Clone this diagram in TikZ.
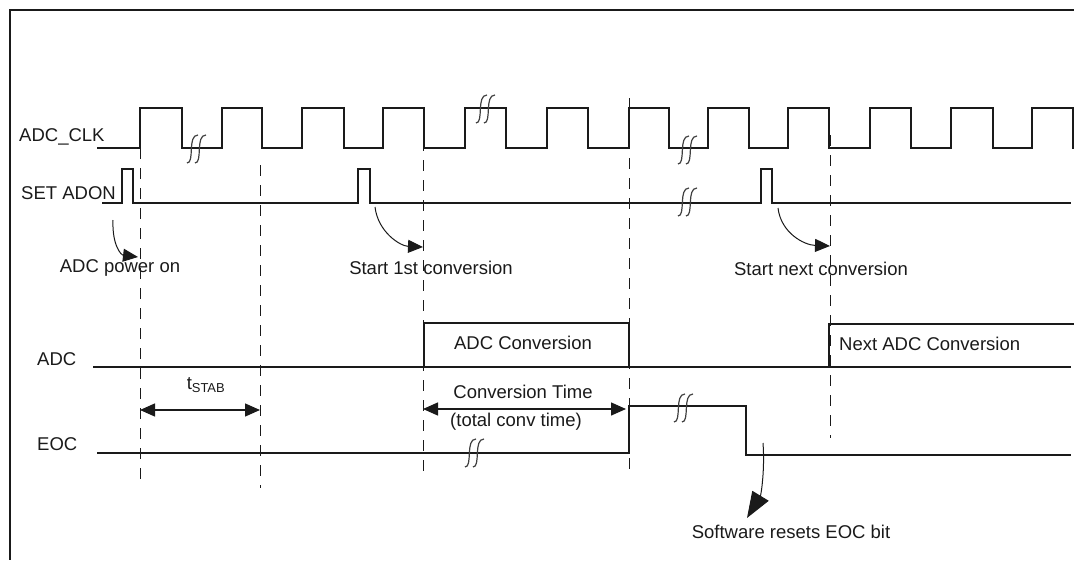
\documentclass[tikz,border=0pt]{standalone}
\usepackage{fontspec}
\setmainfont{Liberation Sans}
\usetikzlibrary{arrows.meta}
\definecolor{ink}  {HTML}{1A1A1A}
\definecolor{squig}{HTML}{404040}

\begin{document}
\begin{tikzpicture}[x=1pt, y=-1pt,
    sig/.style={ink, line width=1.5pt, line cap=rect},
    guide/.style={ink, line width=1pt, dash pattern=on 11pt off 9pt},
    lbl/.style={ink, font=\fontsize{18.5}{22}\selectfont, inner sep=0pt},
    pointer/.style={ink, line width=1pt, -{Triangle[length=15pt,width=13pt]}},
    span/.style={ink, line width=1.4pt, {Triangle[length=15pt,width=13pt]}-{Triangle[length=15pt,width=13pt]}},
    brkmark/.pic={\foreach \d in {-4,4}
      \draw[squig, line width=1.2pt] (\d-6,14) .. controls (\d+2,14) and (\d-6,-14) .. (\d+5,-14);}]
  \def\ckL{148} \def\ckH{108} \def\onL{203} \def\onH{169}
  \useasboundingbox (0,0) rectangle (1074,560);
  % frame
  \draw[ink, line width=2pt] (1074,10) -- (10,10) -- (10,560);
  % clock
  \foreach \r/\f [remember=\f as \pf (initially 98)] in
      {140/182,222/262,302/344,383/424,465/506,547/588,629/669,708/749,788/829,870/911,951/993,1032/1073}
    \draw[sig] (\pf,\ckL) -- (\r,\ckL) -- (\r,\ckH) -- (\f,\ckH) -- (\f,\ckL);
  % set adon
  \draw[sig] (103,\onL) -- (122,\onL) -- (122,\onH) -- (133,\onH) -- (133,\onL)
    -- (358,\onL) -- (358,\onH) -- (370,\onH) -- (370,\onL)
    -- (761,\onL) -- (761,\onH) -- (772,\onH) -- (772,\onL) -- (1070,\onL);
  % adc
  \draw[sig] (94,367) -- (1070,367);
  \draw[sig] (424,367) -- (424,323) -- (629,323) -- (629,367);
  \draw[sig] (829,367) -- (829,324) -- (1073,324);
  % eoc
  \draw[sig] (98,453) -- (629,453) -- (629,406) -- (746,406) -- (746,455) -- (1070,455);
  % guides
  \foreach \x/\t/\b in {140/148/482,260/165/488,423/140/477,629/98/478,830/135/438}
    \draw[guide] (\x,\t) -- (\x,\b);
  % breaks
  \foreach \x/\y in {197/149,486/109,688/150,688/202,475/453,684/408}
    \pic at (\x,\y) {brkmark};
  % signal names
  \node[lbl, anchor=west] (clk)  at (19,137) {ADC\_CLK};
  \node[lbl, anchor=west] (adon) at (21,193) {SET ADON};
  \node[lbl, anchor=west] (adc)  at (37,359) {ADC};
  \node[lbl, anchor=west] (eoc)  at (37,444) {EOC};
  % labels
  \node[lbl] (pwr)    at (120,268) {ADC power on};
  \node[lbl] (start1) at (431,268) {Start 1st conversion};
  \node[lbl] (startn) at (821,269) {Start next conversion};
  \node[lbl] (tstab)  at (206,385) {t\textsubscript{STAB}};
  \node[lbl] (conv)   at (523,343) {ADC Conversion};
  \node[lbl] (ctime)  at (523,392) {Conversion Time};
  \node[lbl] (ctotal) at (516,422) {(total conv time)};
  \node[lbl, anchor=west] (nextconv) at (839,344) {Next ADC Conversion};
  \node[lbl] (sw)     at (791,532) {Software resets EOC bit};
  % pointers
  \coordinate (pwrS) at (113,220);  \coordinate (pwrE) at (138,257);
  \coordinate (st1S) at (375,207);  \coordinate (st1E) at (423,247);
  \coordinate (stnS) at (778,208);  \coordinate (stnE) at (830,246);
  \coordinate (swS)  at (763,443);  \coordinate (swE)  at (747,518);
  \draw[pointer] (pwrS) .. controls (112,245) and (121,255) .. (pwrE);
  \draw[pointer] (st1S) .. controls (378,232) and (400,246) .. (st1E);
  \draw[pointer] (stnS) .. controls (781,233) and (804,245) .. (stnE);
  \draw[ink, line width=1pt, -{Triangle[length=26pt,width=19pt]}]
    (swS) .. controls (765,470) and (761,495) .. (swE);
  % spans
  \coordinate (tsL) at (140,410);  \coordinate (tsR) at (260,410);
  \coordinate (ctL) at (423,409);  \coordinate (ctR) at (626,409);
  \draw[span] (tsL) -- (tsR);
  \draw[span] (ctL) -- (ctR);
\end{tikzpicture}
\end{document}
